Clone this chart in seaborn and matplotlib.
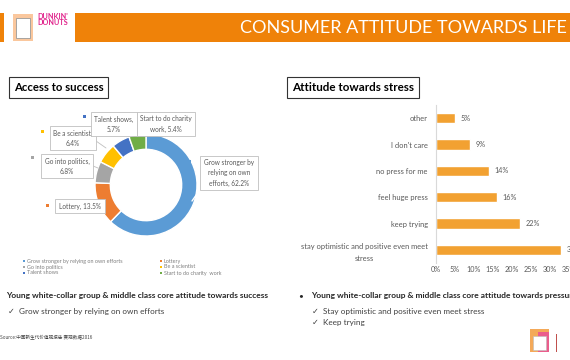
import matplotlib
matplotlib.use("Agg")
import matplotlib.pyplot as plt
from matplotlib.patches import Rectangle
from matplotlib.lines import Line2D
import seaborn as sns
import pandas as pd

# ---------------- data ----------------
pie_labels = ["Grow stronger by relying on own efforts", "Lottery", "Go into politics",
              "Be a scientist", "Talent shows", "Start to do charity  work"]
pie_values = [62.2, 13.5, 6.8, 6.4, 5.7, 5.4]
pie_colors = ["#5B9BD5", "#ED7D31", "#A5A5A5", "#FFC000", "#4472C4", "#70AD47"]

stress_cats = ["other", "I don't care", "no press for me", "feel huge press", "keep trying",
               "stay optimistic and positive even meet\nstress"]
stress_vals = [5, 9, 14, 16, 22, 33]
x_ticks = [0, 5, 10, 15, 20, 25, 30, 35]

sns.set_theme(style="white")
plt.rcParams["font.family"] = ["Lato", "DejaVu Sans", "Noto Sans CJK SC"]

W, H = 570, 360
fig = plt.figure(figsize=(W / 100, H / 100), dpi=100)
fig.patch.set_facecolor("white")


def fx(x):
    return x / W


def fy(y):
    return 1 - y / H


def rect(x0, y0, x1, y1, **kw):
    fig.patches.append(Rectangle((fx(x0), fy(y1)), (x1 - x0) / W, (y1 - y0) / H,
                                 transform=fig.transFigure, figure=fig, **kw))


def seg(x0, y0, x1, y1, **kw):
    fig.lines.append(Line2D([fx(x0), fx(x1)], [fy(y0), fy(y1)], transform=fig.transFigure,
                            figure=fig, **kw))


# ---------------- header ----------------
ORANGE = "#EF8209"
rect(75, 13, 570, 42, facecolor=ORANGE, edgecolor="none")
rect(0, 13, 4, 42, facecolor=ORANGE, edgecolor="none")
# logo approximation
rect(13, 14, 33, 41, facecolor="#F7A35C", edgecolor="none", alpha=0.6)
rect(16, 18, 30, 38, facecolor="white", edgecolor="#999999", lw=0.6)
fig.text(fx(53), fy(16.5), "DUNKIN'", color="#E0218A", fontsize=5.2, fontweight="bold",
         ha="center", va="center")
fig.text(fx(53), fy(22.5), "DONUTS", color="#E0218A", fontsize=5.2, fontweight="bold",
         ha="center", va="center")
fig.text(fx(567), fy(28), "CONSUMER ATTITUDE TOWARDS LIFE", color="white", fontsize=13,
         ha="right", va="center", fontweight="normal")

# section titles
fig.text(fx(14), fy(87.5), "Access to success", fontsize=8.2, fontweight="bold", ha="left",
         va="center", color="black",
         bbox=dict(boxstyle="square,pad=0.42", facecolor="white", edgecolor="#333333", lw=0.8))
fig.text(fx(292), fy(87.5), "Attitude towards stress", fontsize=8.4, fontweight="bold",
         ha="left", va="center", color="black",
         bbox=dict(boxstyle="square,pad=0.42", facecolor="white", edgecolor="#333333", lw=0.8))

# ---------------- donut ----------------
cx, cy, r = 146, 185, 51
ax_p = fig.add_axes([fx(cx - r), fy(cy + r), 2 * r / W, 2 * r / H])
ax_p.pie(pie_values, colors=pie_colors, startangle=90, counterclock=False, radius=1,
         wedgeprops=dict(width=0.3, edgecolor="white", linewidth=1.0))
ax_p.set_xlim(-1, 1)
ax_p.set_ylim(-1, 1)
ax_p.set_aspect("auto")
ax_p.axis("off")

# leader lines
seg(96, 141, 106, 148, color="#BFBFBF", lw=0.6)
seg(93, 166, 98, 168, color="#BFBFBF", lw=0.6)
seg(201, 188, 192, 201, color="white", lw=1.0)

lab_kw = dict(fontsize=4.7, color="#595959", ha="center", va="center", linespacing=1.5)
box_kw = dict(boxstyle="square,pad=0.55", facecolor="white", edgecolor="#BFBFBF", lw=0.6)
pie_texts = [
    (73, 138, f"Be a scientist,\n{pie_values[3]}%"),
    (114, 124, f"Talent shows,\n{pie_values[4]}%"),
    (166, 124, f"Start to do charity\nwork, {pie_values[5]}%"),
    (67, 166, f"Go into politics,\n{pie_values[2]}%"),
    (229, 173, f"Grow stronger by\nrelying on own\nefforts, {pie_values[0]}%"),
    (80, 206, f"Lottery, {pie_values[1]}%"),
]
for x, y, t in pie_texts:
    fig.text(fx(x), fy(y), t, bbox=box_kw, **lab_kw)

# small colour keys next to labels
for (x, y), c in zip([(190, 162), (47, 206), (32, 157), (42, 131), (84, 117), (128, 117)],
                     pie_colors):
    rect(x - 1.5, y - 1.5, x + 1.5, y + 1.5, facecolor=c, edgecolor="none")

# legend
leg_pos = [(24, 261), (161, 261), (24, 267), (161, 267), (24, 273), (161, 273)]
for (x, y), i in zip(leg_pos, range(6)):
    rect(x - 1.2, y - 1.2, x + 1.2, y + 1.2, facecolor=pie_colors[i], edgecolor="none")
    fig.text(fx(x + 3), fy(y), pie_labels[i], fontsize=3.9, color="#7F7F7F", ha="left",
             va="center")

# ---------------- bar chart ----------------
df = pd.DataFrame({"cat": stress_cats, "val": stress_vals})
ax_b = fig.add_axes([fx(436), fy(263), (569 - 436) / W, (263 - 105) / H])
sns.barplot(data=df, x="val", y="cat", order=stress_cats, color="#F2A131", width=0.38,
            saturation=1, ax=ax_b)
ax_b.set_xlim(0, 35)
ax_b.set_xticks(x_ticks)
ax_b.set_xticklabels([f"{v}%" for v in x_ticks])
ax_b.set_xlabel("")
ax_b.set_ylabel("")
for s in ["top", "right", "bottom"]:
    ax_b.spines[s].set_visible(False)
ax_b.spines["left"].set_color("#D9D9D9")
ax_b.spines["left"].set_linewidth(0.8)
ax_b.tick_params(axis="x", length=0, pad=2, labelsize=5.2, labelcolor="#595959")
ax_b.tick_params(axis="y", length=0, pad=6, labelsize=5.4, labelcolor="#595959")
for lbl in ax_b.get_yticklabels():
    lbl.set_multialignment("center")
    lbl.set_linespacing(1.7)
for cont in ax_b.containers:
    ax_b.bar_label(cont, labels=[f"{v}%" for v in stress_vals], padding=4, fontsize=5.2,
                   color="#595959")
ax_b.grid(False)

# ---------------- bottom texts ----------------
fig.text(fx(6), fy(295.5), "Young white-collar group & middle class core attitude towards success",
         fontsize=6, fontweight="bold", color="#262626", ha="left", va="center")
fig.text(fx(8), fy(311.5), "✓  Grow stronger by relying on own efforts", fontsize=5.9,
         color="#404040", ha="left", va="center")
fig.text(fx(0), fy(337.5), "Source:中国新生代价值观报告 赛观数据2016", fontsize=3.3,
         color="#404040", ha="left", va="center",
         family=["Noto Sans CJK SC", "DejaVu Sans"])

fig.text(fx(298), fy(295.5), "•", fontsize=6, color="#262626", ha="left", va="center")
fig.text(fx(311), fy(295.5), "Young white-collar group & middle class core attitude towards pressure",
         fontsize=6, fontweight="bold", color="#262626", ha="left", va="center")
fig.text(fx(312), fy(311.5), "✓  Stay optimistic and positive even meet stress", fontsize=5.9,
         color="#404040", ha="left", va="center")
fig.text(fx(312), fy(322), "✓  Keep trying", fontsize=5.9, color="#404040", ha="left",
         va="center")

# small logo bottom right
rect(530, 329, 549, 352, facecolor="#F39A3C", edgecolor="none", alpha=0.85)
rect(538, 332, 549, 352, facecolor="#E84A9A", edgecolor="none", alpha=0.8)
rect(533, 336, 546, 350, facecolor="white", edgecolor="#BBBBBB", lw=0.4)
rect(556, 334, 557, 352, facecolor="#C0504D", edgecolor="none")

fig.savefig("out.png", dpi=100, facecolor="white")
